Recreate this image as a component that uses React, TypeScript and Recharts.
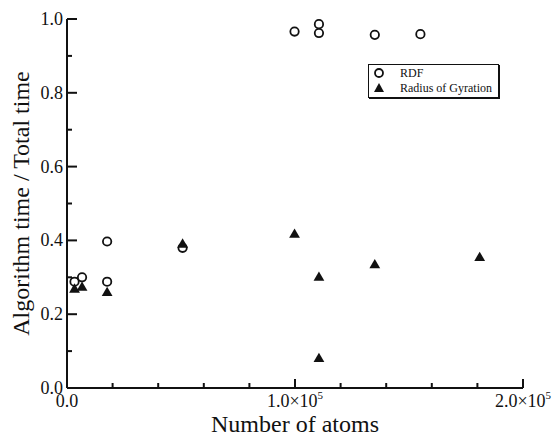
import React from 'react'
import { ScatterChart, Scatter, XAxis, YAxis, Legend } from 'recharts'

// values
const rdfAtoms = [3300, 6600, 17600, 17600, 50700, 99800, 110500, 110500, 135000, 155000]
const rdfFraction = [0.288, 0.3, 0.397, 0.288, 0.38, 0.966, 0.986, 0.962, 0.957, 0.959]

const rgAtoms = [3300, 6600, 17600, 50700, 99800, 110500, 110500, 135000, 181000]
const rgFraction = [0.27, 0.275, 0.261, 0.392, 0.419, 0.302, 0.082, 0.336, 0.356]

const xTicks = [0, 20000, 40000, 60000, 80000, 100000, 120000, 140000, 160000, 180000, 200000]
const xMajor = [0, 100000, 200000]
const yTicks = [0, 0.1, 0.2, 0.3, 0.4, 0.5, 0.6, 0.7, 0.8, 0.9, 1.0]
const yMajor = [0, 0.2, 0.4, 0.6, 0.8, 1.0]
const yLabels = ['0.0', '0.2', '0.4', '0.6', '0.8', '1.0']

const rdfData = rdfAtoms.map((x, i) => ({ x, y: rdfFraction[i] }))
const rgData = rgAtoms.map((x, i) => ({ x, y: rgFraction[i] }))

const FONT = '"Liberation Serif", "Times New Roman", serif'
const INK = '#111'
const serif = { fontFamily: FONT }

const isMajor = (list: number[], v: number) => list.some((m) => Math.abs(m - v) < 1e-9)

const BottomTick = (props: any) => {
  const { x, y, payload } = props
  const major = isMajor(xMajor, payload.value)
  const mant = (payload.value / 100000).toFixed(1)
  return (
    <g>
      <line x1={x} y1={y} x2={x} y2={y - (major ? 9 : 5)} stroke={INK} strokeWidth={2} />
      {major && (
        <text x={x} y={y + 19} textAnchor="middle" style={serif} fontSize={18} fill={INK}>
          {payload.value === 0 ? (
            '0.0'
          ) : (
            <>
              {mant}×10
              <tspan fontSize={11} dy={-8}>5</tspan>
            </>
          )}
        </text>
      )}
    </g>
  )
}

const TopTick = (props: any) => {
  const { x, y, payload } = props
  const major = isMajor(xMajor, payload.value)
  return <line x1={x} y1={y} x2={x} y2={y + (major ? 9 : 5)} stroke={INK} strokeWidth={2} />
}

const LeftTick = (props: any) => {
  const { x, y, payload } = props
  const idx = yMajor.findIndex((m) => Math.abs(m - payload.value) < 1e-9)
  const major = idx >= 0
  return (
    <g>
      <line x1={x} y1={y} x2={x + (major ? 10 : 5)} y2={y} stroke={INK} strokeWidth={2} />
      {major && (
        <text x={x - 4} y={y + 6} textAnchor="end" style={serif} fontSize={18} fill={INK}>
          {yLabels[idx]}
        </text>
      )}
    </g>
  )
}

const RightTick = (props: any) => {
  const { x, y, payload } = props
  const major = isMajor(yMajor, payload.value)
  return <line x1={x} y1={y} x2={x - (major ? 9 : 5)} y2={y} stroke={INK} strokeWidth={2} />
}

const OpenCircle = (props: any) => {
  const { cx, cy } = props
  return <circle cx={cx} cy={cy} r={4.2} fill="#fff" stroke={INK} strokeWidth={1.8} />
}

const Triangle = (props: any) => {
  const { cx, cy } = props
  return <path d={`M${cx},${cy - 5} L${cx + 5.4},${cy + 4.3} L${cx - 5.4},${cy + 4.3} Z`} fill={INK} />
}

const LegendBox = () => (
  <div
    style={{
      border: '1px solid #111',
      boxShadow: '1px 1px 0 #111',
      background: '#fff',
      width: 129,
      height: 32,
      fontFamily: FONT,
      fontSize: 12,
      color: INK,
      position: 'relative',
    }}
  >
    <svg width={20} height={32} style={{ position: 'absolute', left: 4, top: 0 }}>
      <circle cx={6} cy={8} r={4} fill="#fff" stroke={INK} strokeWidth={1.8} />
      <path d="M6,18 L11,27 L1,27 Z" fill={INK} />
    </svg>
    <div style={{ position: 'absolute', left: 31, top: 1, lineHeight: '14px' }}>RDF</div>
    <div style={{ position: 'absolute', left: 31, top: 16, lineHeight: '14px', whiteSpace: 'nowrap' }}>
      Radius of Gyration
    </div>
  </div>
)

export default function App() {
  return (
    <div style={{ position: 'absolute', left: 0, top: 0, width: 554, height: 437, background: '#fff', fontFamily: FONT }}>
      <ScatterChart width={554} height={437} margin={{ top: 19, right: 31, bottom: 0, left: 0 }} style={serif}>
        <XAxis
          dataKey="x"
          type="number"
          domain={[0, 200000]}
          ticks={xTicks}
          interval={0}
          height={49}
          tickSize={0}
          tickMargin={0}
          tick={BottomTick}
          axisLine={{ stroke: INK, strokeWidth: 2 }}
          label={{
            value: 'Number of atoms',
            position: 'insideBottom',
            offset: 5,
            style: serif,
            fontSize: 24,
            fill: INK,
          }}
        />
        <XAxis
          xAxisId="top"
          orientation="top"
          type="number"
          domain={[0, 200000]}
          ticks={xTicks}
          interval={0}
          height={0}
          tickSize={0}
          tickMargin={0}
          tick={TopTick}
          axisLine={{ stroke: INK, strokeWidth: 2 }}
        />
        <YAxis
          dataKey="y"
          type="number"
          domain={[0, 1]}
          ticks={yTicks}
          interval={0}
          width={67}
          tickSize={0}
          tickMargin={0}
          tick={LeftTick}
          axisLine={{ stroke: INK, strokeWidth: 2 }}
          label={{
            value: 'Algorithm time / Total time',
            angle: -90,
            position: 'insideLeft',
            offset: 20,
            style: { textAnchor: 'middle', fontFamily: FONT },
            fontSize: 24,
            fill: INK,
          }}
        />
        <YAxis
          yAxisId="right"
          orientation="right"
          type="number"
          domain={[0, 1]}
          ticks={yTicks}
          interval={0}
          width={0}
          tickSize={0}
          tickMargin={0}
          tick={RightTick}
          axisLine={{ stroke: INK, strokeWidth: 2 }}
        />
        <Legend
          layout="horizontal"
          verticalAlign="middle"
          align="center"
          wrapperStyle={{ left: 368, top: 64, width: 131, height: 34 }}
          content={LegendBox}
        />
        <Scatter name="RDF" data={rdfData} shape={OpenCircle} isAnimationActive={false} />
        <Scatter name="Radius of Gyration" data={rgData} shape={Triangle} isAnimationActive={false} />
      </ScatterChart>
    </div>
  )
}
